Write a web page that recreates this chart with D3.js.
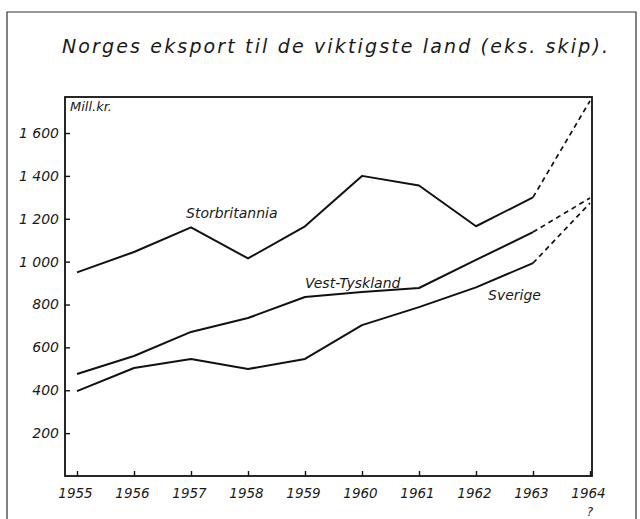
<!DOCTYPE html>
<html>
<head>
<meta charset="utf-8">
<script src="https://cdn.jsdelivr.net/npm/d3@7"></script>
<style>
  body { margin: 0; background: #fff; }
  text { font-family: "DejaVu Sans", sans-serif; font-style: italic; fill: #1a1a1a; }
</style>
</head>
<body>
<div id="viz"></div>
<script>
var width = 640;
var height = 519;

// data (mill. kr.)
var years = [1955, 1956, 1957, 1958, 1959, 1960, 1961, 1962, 1963, 1964];
var storbritannia = [950, 1045, 1160, 1015, 1165, 1400, 1355, 1165, 1300, 1750];
var vestTyskland = [476, 560, 672, 737, 835, 858, 877, 1008, 1138, 1297];
var sverige = [396, 504, 546, 499, 546, 704, 788, 880, 993, 1273];
var yTicks = [200, 400, 600, 800, 1000, 1200, 1400, 1600];
var tickLabels = ['200', '400', '600', '800', '1 000', '1 200', '1 400', '1 600'];

var series = [
  { name: 'Storbritannia', values: storbritannia, lx: 186, ly: 218 },
  { name: 'Vest-Tyskland', values: vestTyskland, lx: 305, ly: 288 },
  { name: 'Sverige', values: sverige, lx: 488, ly: 300 }
];

var frameL = 65, frameR = 592, frameT = 97, frameB = 476;

var x = d3.scaleLinear().domain([1955, 1964]).range([77, 590]);
var y = d3.scaleLinear().domain([0, 1768]).range([frameB, frameT]);

var svg = d3.select('#viz').append('svg')
  .attr('width', width)
  .attr('height', height);

// outer sheet border
svg.append('path')
  .attr('d', 'M7,' + height + 'V12H636V' + height)
  .style('fill', 'none')
  .style('stroke', '#333')
  .style('stroke-width', 1.2);

svg.append('text')
  .attr('x', 62)
  .attr('y', 53)
  .attr('textLength', 546)
  .attr('lengthAdjust', 'spacing')
  .style('font-size', '19px')
  .text('Norges eksport til de viktigste land (eks. skip).');

// plot frame
svg.append('rect')
  .attr('x', frameL)
  .attr('y', frameT)
  .attr('width', frameR - frameL)
  .attr('height', frameB - frameT)
  .style('fill', 'none')
  .style('stroke', '#111')
  .style('stroke-width', 1.8);

svg.append('text')
  .attr('x', 70)
  .attr('y', 111)
  .style('font-size', '13px')
  .text('Mill.kr.');

// y axis, ticks pointing inward
var yAxis = d3.axisLeft(y)
  .tickValues(yTicks)
  .tickSize(-5)
  .tickPadding(6)
  .tickFormat(function (d, i) { return tickLabels[i]; });

var gy = svg.append('g')
  .attr('transform', 'translate(' + frameL + ',0)')
  .call(yAxis);
gy.select('.domain').remove();
gy.selectAll('line').style('stroke', '#111').style('stroke-width', 1.4);
gy.selectAll('text')
  .style('font-size', '14px')
  .style('font-family', '"DejaVu Sans", sans-serif')
  .style('font-style', 'italic');

// x axis, ticks pointing up
var xAxis = d3.axisBottom(x)
  .tickValues(years)
  .tickSize(-5)
  .tickPadding(12)
  .tickFormat(d3.format('d'));

var gx = svg.append('g')
  .attr('transform', 'translate(0,' + frameB + ')')
  .call(xAxis);
gx.select('.domain').remove();
gx.selectAll('line').style('stroke', '#111').style('stroke-width', 1.4);
gx.selectAll('text')
  .attr('dx', -2)
  .style('font-size', '13.5px')
  .style('font-family', '"DejaVu Sans", sans-serif')
  .style('font-style', 'italic');

svg.append('text')
  .attr('x', x(1964))
  .attr('y', 516)
  .attr('text-anchor', 'middle')
  .style('font-size', '12px')
  .text('?');

var line = d3.line()
  .x(function (d) { return x(d[0]); })
  .y(function (d) { return y(d[1]); });

series.forEach(function (s) {
  var pts = years.map(function (yr, i) { return [yr, s.values[i]]; });
  var solid = pts.slice(0, 9);
  var dashed = pts.slice(8);

  svg.append('path')
    .attr('d', line(solid))
    .style('fill', 'none')
    .style('stroke', '#111')
    .style('stroke-width', 2)
    .style('stroke-linejoin', 'round');

  svg.append('path')
    .attr('d', line(dashed))
    .style('fill', 'none')
    .style('stroke', '#111')
    .style('stroke-width', 1.7)
    .style('stroke-dasharray', '5,4');

  svg.append('text')
    .attr('x', s.lx)
    .attr('y', s.ly)
    .style('font-size', '14px')
    .text(s.name);
});
</script>
</body>
</html>
